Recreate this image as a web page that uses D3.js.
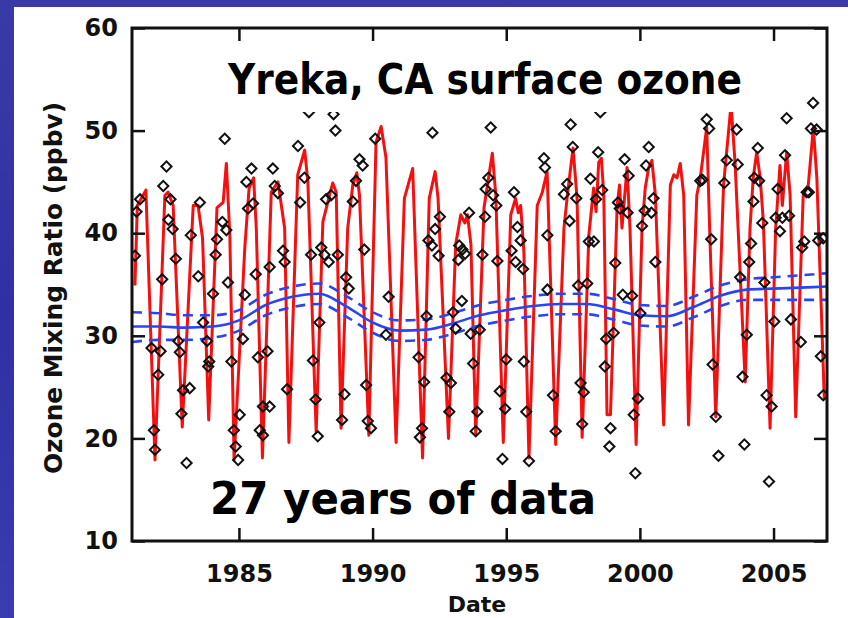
<!DOCTYPE html>
<html>
<head>
<meta charset="utf-8">
<script src="https://cdn.jsdelivr.net/npm/d3@7"></script>
<style>
  html, body { margin: 0; padding: 0; background: #3434a8; }
  svg { display: block; }
</style>
</head>
<body>
<div id="chart"></div>
<script>
// monthly mean curve (red) at its corners
const redYears = [1981.11,1981.20,1981.52,1981.86,1982.23,1982.35,1982.54,1982.88,1983.29,1983.47,1983.64,1983.87,
  1984.18,1984.41,1984.53,1984.66,1984.82,1985.22,1985.38,1985.55,1985.65,1985.88,1986.21,1986.46,1986.71,1986.87,
  1987.20,1987.46,1987.58,1987.89,1988.14,1988.39,1988.51,1988.64,1988.82,1989.07,1989.26,1989.41,1989.51,1989.86,
  1990.13,1990.32,1990.50,1990.88,1991.19,1991.50,1991.87,1992.12,1992.34,1992.45,1992.84,1993.11,1993.30,1993.45,
  1993.55,1993.68,1993.86,1994.17,1994.48,1994.61,1994.89,1995.17,1995.35,1995.45,1995.54,1995.66,1995.85,1996.16,
  1996.35,1996.53,1996.85,1997.16,1997.30,1997.50,1997.65,1997.84,1998.09,1998.27,1998.36,1998.46,1998.56,1998.65,
  1998.77,1998.90,1999.15,1999.24,1999.33,1999.52,1999.63,1999.86,2000.08,2000.20,2000.33,2000.45,2000.58,2000.89,
  2001.14,2001.27,2001.39,2001.51,2001.64,2001.82,2002.13,2002.26,2002.50,2002.62,2002.84,2003.13,2003.41,2003.56,
  2003.94,2004.12,2004.24,2004.37,2004.50,2004.62,2004.87,2005.08,2005.24,2005.33,2005.49,2005.62,2005.83,2006.11,
  2006.30,2006.49,2006.62,2006.90];
const redVals = [34.9,42.7,44.2,17.9,43.7,44.0,42.7,21.1,42.7,42.7,39.5,21.8,
  42.5,43.0,46.8,39.8,17.9,38.6,44.4,45.4,40.5,18.1,44.0,45.0,40.5,19.6,
  45.7,48.1,45.0,20.6,41.1,43.7,44.9,44.0,21.0,40.5,44.7,45.9,43.7,20.3,
  48.9,50.4,47.4,19.6,43.4,46.3,18.1,43.4,46.0,43.4,20.0,38.9,41.8,41.0,
  41.8,38.9,20.3,42.5,47.8,43.7,19.6,41.8,43.4,42.0,42.7,38.2,18.1,42.7,
  44.0,46.0,19.4,40.5,44.0,48.3,43.4,20.1,39.8,44.4,42.1,46.9,47.3,43.7,
  22.3,22.3,42.7,44.7,40.5,46.4,40.5,19.4,40.5,44.4,46.4,47.1,43.7,21.3,
  44.7,45.7,45.4,46.8,43.7,21.3,43.7,45.4,50.3,39.5,22.1,44.7,52.5,46.9,
  25.5,40.5,45.4,47.9,45.4,41.1,21.0,40.5,46.6,42.7,47.9,43.7,22.1,43.7,
  44.7,50.3,45.4,23.8];

// individual observations (diamonds)
const obsYears = [
  1984.47,1982.29,1985.47,1982.17,1985.28,1981.30,1982.44,1981.17,1983.54,1985.53,1985.34,1982.36,1984.38,1982.52,
  1984.53,1983.20,1984.18,1981.11,1982.64,1984.13,1983.48,1982.13,1984.59,1985.63,1984.03,1985.22,1981.73,1982.07,
  1982.73,1982.79,1983.81,1983.89,1983.85,1984.72,1985.15,1985.71,1983.66,1981.98,1983.16,1982.91,1982.85,1981.82,
  1981.86,1983.04,1984.81,1985.03,1984.88,1984.97,1985.90,1985.78,1985.90,
  1986.27,1986.34,1986.46,1987.62,1988.54,1988.61,1987.21,1990.10,1989.51,1989.63,1987.45,1987.29,1989.38,1989.26,
  1988.26,1988.45,1986.65,1986.71,1988.08,1988.20,1988.36,1987.70,1988.70,1989.69,1989.01,1989.11,1990.60,1988.01,
  1990.50,1986.15,1986.07,1986.15,1987.77,1987.87,1988.95,1988.86,1989.76,1986.80,1989.82,1989.94,1987.95,
  1992.24,1994.42,1996.41,1996.45,1994.33,1994.23,1994.51,1994.63,1995.29,1993.61,1992.52,1994.21,1992.34,1992.09,
  1992.22,1992.47,1995.42,1995.54,1995.20,1995.35,1995.63,1993.24,1993.36,1993.46,1993.21,1994.11,1994.67,1996.54,
  1996.54,1993.34,1993.01,1993.11,1992.02,1993.67,1994.01,1991.72,1991.93,1992.77,1992.93,1992.87,1993.76,1993.92,
  1993.86,1995.00,1994.76,1994.96,1995.66,1995.75,1994.86,1995.85,1991.85,1991.77,
  1997.41,1998.52,1997.49,1998.44,1999.43,1999.58,2000.33,2000.23,1998.15,1997.28,1997.16,1997.62,1998.59,1998.36,
  1999.18,1999.25,1999.54,2000.51,2000.43,2000.18,2000.08,1997.37,1998.09,1998.28,1999.08,2000.58,1997.69,1998.03,
  1999.36,1999.71,2000.02,1998.74,1999.02,1998.69,1997.78,1997.90,1996.75,1997.84,1996.85,1999.93,1999.77,1998.90,
  1998.86,1999.83,
  2002.50,2002.59,2003.62,2005.49,2006.48,2006.40,2006.61,2004.41,2003.25,2003.66,2005.43,2002.26,2002.34,2003.16,
  2004.28,2004.46,2004.25,2004.58,2005.15,2006.24,2006.32,2005.08,2005.33,2005.58,2005.24,2002.67,2004.16,2004.09,
  2006.15,2006.07,2006.67,2006.86,2003.75,2004.66,2004.00,2005.03,2005.65,2006.02,2006.77,2006.86,2002.72,2003.84,
  2004.74,2004.93,2002.84,2003.91,2002.94,2004.83];
const obsVals = [
  49.2,46.5,46.3,44.6,45.0,43.3,43.3,42.1,43.0,42.9,42.4,41.3,41.1,40.4,
  40.3,39.8,39.4,37.8,37.5,37.9,35.8,35.5,35.2,36.0,34.1,34.0,28.8,28.5,
  29.5,28.4,29.5,27.5,27.0,27.5,29.7,27.9,31.3,26.2,24.9,24.7,22.4,20.8,
  18.9,17.6,20.8,22.3,19.2,17.9,23.1,20.8,20.3,
  46.3,44.6,43.9,51.8,51.6,50.0,48.5,49.2,47.2,46.6,45.4,43.0,45.1,43.1,
  43.3,43.7,38.3,37.2,38.6,37.9,37.2,37.9,37.9,38.4,35.7,34.6,33.8,31.3,
  30.1,36.7,28.5,23.1,27.6,23.8,24.3,21.8,25.2,24.8,21.7,21.0,20.2,
  49.8,50.3,47.3,46.4,45.4,44.3,43.7,42.7,44.0,42.0,41.6,41.6,40.4,39.3,
  38.8,37.8,40.6,39.3,38.3,37.2,36.5,38.8,38.4,38.0,37.4,37.9,37.3,39.8,
  34.5,33.4,32.3,30.7,31.9,30.2,30.6,27.9,25.5,25.9,25.4,22.6,27.3,22.6,
  20.7,27.7,24.6,22.9,27.5,22.6,18.0,17.8,21.0,20.1,
  50.6,51.8,48.4,47.9,47.2,45.6,48.4,46.6,45.3,44.8,43.8,43.4,44.2,43.3,
  43.0,42.4,42.0,43.4,42.0,42.2,40.7,41.2,39.2,39.2,37.1,37.2,34.9,35.1,
  34.0,33.9,32.2,29.7,30.3,27.0,25.4,24.5,24.2,21.4,20.7,23.9,22.3,21.0,
  19.2,16.6,
  51.1,50.2,50.1,51.2,52.7,50.2,50.1,48.3,47.1,46.7,47.6,45.1,45.2,44.9,
  45.4,45.1,43.1,41.0,44.3,44.0,44.0,41.5,41.5,41.7,40.2,39.4,39.0,37.2,
  39.2,38.6,39.3,39.5,35.7,35.2,30.1,31.4,31.6,29.4,28.0,24.2,27.2,26.0,
  24.2,23.1,22.1,19.4,18.3,15.8];

// long-term trend and its confidence band (blue)
const trendYears = [1981,1982,1983,1984,1985,1986,1987,1988,1989,1990,1991,1992,1993,1994,1995,1996,1997,1998,1999,2000,2001,2002,2003,2004,2005,2006,2007];
const trendMid = [30.9,30.9,30.8,30.9,31.5,33.0,33.8,34.1,32.9,31.3,30.5,30.6,31.2,32.0,32.5,32.9,33.1,33.1,32.6,32.0,31.9,32.8,33.9,34.5,34.6,34.7,34.8];
const trendHi = [32.3,32.2,32.0,32.0,32.5,34.0,34.8,35.1,33.9,32.3,31.5,31.6,32.2,33.0,33.5,33.9,34.1,34.1,33.6,33.0,32.9,33.8,34.9,35.5,35.7,35.9,36.1];
const trendLo = [29.4,29.6,29.6,29.8,30.5,32.0,32.8,33.1,31.9,30.3,29.5,29.6,30.2,31.0,31.5,31.9,32.1,32.1,31.6,31.0,30.9,31.8,32.9,33.5,33.5,33.5,33.5];

const xTicks = [1985, 1990, 1995, 2000, 2005];
const yTicks = [10, 20, 30, 40, 50, 60];

const W = 848, H = 618;
const margin = { left: 132, top: 28, right: 21, bottom: 77 };
const innerW = W - margin.left - margin.right;
const innerH = H - margin.top - margin.bottom;

const svg = d3.select("#chart").append("svg")
  .attr("width", W).attr("height", H);

// slide background
const defs = svg.append("defs");
const grad = defs.append("linearGradient").attr("id", "bg").attr("x1", 0).attr("y1", 0).attr("x2", 0).attr("y2", 1);
grad.append("stop").attr("offset", "0%").attr("stop-color", "#3a3aa6");
grad.append("stop").attr("offset", "50%").attr("stop-color", "#3030a4");
grad.append("stop").attr("offset", "100%").attr("stop-color", "#3b3bb2");
svg.append("rect").attr("width", W).attr("height", H).attr("fill", "url(#bg)");
svg.append("rect").attr("x", 14).attr("y", 7).attr("width", W - 14).attr("height", H - 7).attr("fill", "#ffffff");

defs.append("clipPath").attr("id", "plotClip")
  .append("rect").attr("width", innerW).attr("height", innerH);

const x = d3.scaleLinear().domain([1981, 2007]).range([0, innerW]);
const y = d3.scaleLinear().domain([10, 60]).range([innerH, 0]);

const g = svg.append("g").attr("transform", `translate(${margin.left},${margin.top})`);
const plot = g.append("g").attr("clip-path", "url(#plotClip)");

const redLine = d3.line().x(d => x(d[0])).y(d => y(d[1]));
plot.append("path")
  .datum(d3.zip(redYears, redVals))
  .attr("d", redLine)
  .attr("fill", "none")
  .attr("stroke", "#f51010")
  .attr("stroke-width", 3)
  .attr("stroke-linejoin", "round");

const trendLine = d3.line().x(d => x(d[0])).y(d => y(d[1])).curve(d3.curveMonotoneX);
plot.append("path")
  .datum(d3.zip(trendYears, trendMid))
  .attr("d", trendLine)
  .attr("fill", "none").attr("stroke", "#2a44f2").attr("stroke-width", 2.6);
[trendHi, trendLo].forEach(arr => {
  plot.append("path")
    .datum(d3.zip(trendYears, arr))
    .attr("d", trendLine)
    .attr("fill", "none").attr("stroke", "#2a44f2").attr("stroke-width", 2.6)
    .attr("stroke-dasharray", "10,7");
});

const diamond = d3.symbol().type(d3.symbolSquare).size(52);
plot.append("g")
  .selectAll("path")
  .data(d3.zip(obsYears, obsVals))
  .enter().append("path")
  .attr("d", diamond)
  .attr("transform", d => `translate(${x(d[0])},${y(d[1])}) rotate(45)`)
  .attr("fill", "none")
  .attr("stroke", "#111")
  .attr("stroke-width", 2);

// white box behind the title masks the data
svg.append("rect")
  .attr("x", 205).attr("y", 41).attr("width", 565).attr("height", 71)
  .attr("fill", "#ffffff");

svg.append("text")
  .attr("x", 228).attr("y", 94)
  .attr("textLength", 514).attr("lengthAdjust", "spacingAndGlyphs")
  .style("font-family", "'DejaVu Sans', sans-serif")
  .style("font-weight", "700").style("font-size", "42px")
  .text("Yreka, CA surface ozone");

svg.append("text")
  .attr("x", 210).attr("y", 514)
  .attr("textLength", 386).attr("lengthAdjust", "spacingAndGlyphs")
  .style("font-family", "'DejaVu Sans', sans-serif")
  .style("font-weight", "700").style("font-size", "45px")
  .text("27 years of data");

// axes: inward ticks on all four sides
const tickLen = 13;
const axisFont = sel => sel.selectAll("text")
  .style("font-family", "'DejaVu Sans', sans-serif")
  .style("font-weight", "700").style("font-size", "24px").attr("fill", "#111");
const axisStroke = sel => {
  sel.select(".domain").remove();
  sel.selectAll("line").attr("stroke", "#111").attr("stroke-width", 2.5);
};

g.append("g").attr("transform", `translate(0,${innerH})`)
  .call(d3.axisBottom(x).tickValues(xTicks).tickFormat(d3.format("d")).tickSizeInner(-tickLen).tickPadding(24))
  .call(axisStroke).call(axisFont);
g.append("g")
  .call(d3.axisTop(x).tickValues(xTicks).tickFormat("").tickSizeInner(-tickLen))
  .call(axisStroke);
g.append("g")
  .call(d3.axisLeft(y).tickValues(yTicks).tickFormat(d3.format("d")).tickSizeInner(-tickLen).tickPadding(14))
  .call(axisStroke).call(axisFont);
g.append("g").attr("transform", `translate(${innerW},0)`)
  .call(d3.axisRight(y).tickValues(yTicks).tickFormat("").tickSizeInner(-tickLen))
  .call(axisStroke);

g.append("rect")
  .attr("width", innerW).attr("height", innerH)
  .attr("fill", "none").attr("stroke", "#111").attr("stroke-width", 3);

svg.append("text")
  .attr("x", 477).attr("y", 612)
  .attr("text-anchor", "middle")
  .style("font-family", "'DejaVu Sans', sans-serif")
  .style("font-weight", "700").style("font-size", "22px")
  .attr("fill", "#111")
  .text("Date");

svg.append("text")
  .attr("transform", "translate(62,288) rotate(-90)")
  .attr("text-anchor", "middle")
  .attr("textLength", 372).attr("lengthAdjust", "spacingAndGlyphs")
  .style("font-family", "'DejaVu Sans', sans-serif")
  .style("font-weight", "700").style("font-size", "25px")
  .attr("fill", "#111")
  .text("Ozone Mixing Ratio (ppbv)");
</script>
</body>
</html>
